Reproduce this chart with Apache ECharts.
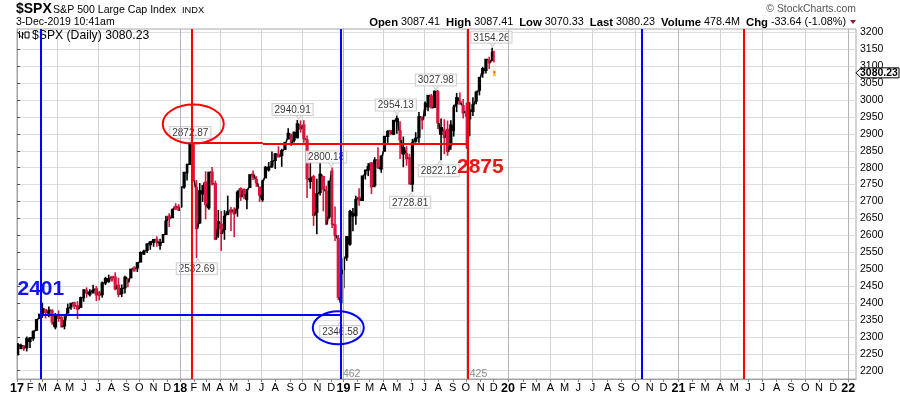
<!DOCTYPE html>
<html><head><meta charset="utf-8">
<script src="https://cdn.jsdelivr.net/npm/echarts@6/dist/echarts.min.js"></script>
<style>html,body{margin:0;padding:0;background:#fff}#c{width:900px;height:396px}</style>
</head><body><div id="c"></div>
<script>
// ---------- data ----------
const holidays = ['2017-01-16','2017-02-20','2017-04-14','2017-05-29','2017-07-04','2017-09-04','2017-11-23','2017-12-25',
  '2018-01-01','2018-01-15','2018-02-19','2018-03-30','2018-05-28','2018-07-04','2018-09-03','2018-11-22','2018-12-05','2018-12-25',
  '2019-01-01','2019-01-21','2019-02-18','2019-04-19','2019-05-27','2019-07-04','2019-09-02','2019-11-28'];
const firstBarDate = '2017-01-03';
const lastBarDate = '2019-12-03';
const axisEndDate = '2022-01-19';
const monthLetters = ['J','F','M','A','M','J','J','A','S','O','N','D'];
const yTicks = [2200,2250,2300,2350,2400,2450,2500,2550,2600,2650,2700,2750,2800,2850,2900,2950,3000,3050,3100,3150,3200];

// weekly bars: [week ending, open, high, low, close]
const weeks2017 = [
 ['2017-01-06',2251.6,2282.1,2245.1,2277.0],['2017-01-13',2273.6,2279.3,2263.6,2274.6],['2017-01-20',2272.8,2276.2,2258.8,2271.3],
 ['2017-01-27',2267.8,2301.0,2257.0,2294.7],['2017-02-03',2286.0,2298.3,2267.2,2297.4],['2017-02-10',2295.9,2319.2,2288.5,2316.1],
 ['2017-02-17',2319.2,2351.3,2319.2,2351.2],['2017-02-24',2354.9,2367.3,2352.9,2367.3],['2017-03-03',2366.1,2401.0,2356.2,2383.1],
 ['2017-03-10',2381.0,2382.9,2354.5,2372.6],['2017-03-17',2371.4,2390.0,2357.8,2378.3],['2017-03-24',2378.2,2381.5,2335.5,2344.0],
 ['2017-03-31',2329.1,2370.4,2322.3,2362.7],['2017-04-07',2363.0,2378.4,2344.5,2355.5],['2017-04-13',2357.2,2366.4,2329.0,2329.0],
 ['2017-04-21',2332.6,2361.4,2322.3,2348.7],['2017-04-28',2370.3,2398.2,2369.4,2384.2],['2017-05-05',2388.5,2399.3,2379.8,2399.3],
 ['2017-05-12',2401.4,2403.9,2381.7,2390.9],['2017-05-19',2393.0,2405.8,2352.7,2381.7],['2017-05-26',2387.2,2418.7,2386.5,2415.8],
 ['2017-06-02',2415.6,2440.2,2403.6,2439.1],['2017-06-09',2437.8,2446.2,2415.7,2431.8],['2017-06-16',2425.4,2441.0,2419.0,2433.2],
 ['2017-06-23',2437.0,2453.8,2431.3,2438.3],['2017-06-30',2442.5,2450.4,2405.7,2423.4],['2017-07-07',2431.4,2436.0,2407.7,2425.2],
 ['2017-07-14',2424.5,2463.5,2415.9,2459.3],['2017-07-21',2459.1,2477.6,2453.3,2472.5],['2017-07-28',2472.0,2484.0,2459.9,2472.1],
 ['2017-08-04',2477.1,2480.4,2462.9,2476.8],['2017-08-11',2477.1,2490.9,2437.8,2441.3],['2017-08-18',2453.0,2474.9,2417.3,2425.6],
 ['2017-08-25',2427.9,2454.8,2417.4,2443.1],['2017-09-01',2444.7,2480.4,2428.2,2476.6],['2017-09-08',2470.4,2472.9,2446.6,2461.4],
 ['2017-09-15',2474.5,2500.2,2474.5,2500.2],['2017-09-22',2503.0,2508.9,2496.7,2502.2],['2017-09-29',2503.3,2519.4,2491.9,2519.4],
 ['2017-10-06',2521.2,2552.5,2520.4,2549.3],['2017-10-13',2547.4,2557.7,2543.0,2553.2],['2017-10-20',2555.6,2575.4,2547.9,2575.2],
 ['2017-10-27',2578.1,2583.0,2557.4,2581.1],['2017-11-03',2583.2,2588.4,2566.2,2587.8],['2017-11-10',2587.5,2597.0,2566.3,2582.3],
 ['2017-11-17',2576.5,2590.1,2557.5,2578.9],['2017-11-24',2579.5,2604.2,2578.2,2602.4],['2017-12-01',2602.7,2657.7,2601.4,2642.2],
 ['2017-12-08',2657.2,2665.2,2624.8,2651.5],['2017-12-15',2652.2,2679.6,2652.2,2675.8],['2017-12-22',2685.9,2695.0,2676.1,2683.3],
 ['2017-12-29',2684.2,2692.1,2673.6,2673.6]
];
const weeks2018 = [
 ['2018-01-05',2683.7,2743.5,2682.4,2743.2],['2018-01-12',2742.7,2787.9,2737.6,2786.2],['2018-01-19',2784.0,2810.3,2762.3,2810.3],
 ['2018-01-26',2809.2,2872.9,2808.1,2872.9],['2018-02-02',2867.2,2870.6,2760.0,2762.1],['2018-02-09',2741.1,2763.4,2532.7,2619.6],
 ['2018-02-16',2636.8,2754.4,2634.1,2732.2],['2018-02-23',2722.0,2747.8,2699.1,2747.3],['2018-03-02',2757.4,2789.2,2647.3,2691.3],
 ['2018-03-09',2681.1,2786.6,2675.8,2786.6],['2018-03-16',2787.3,2801.9,2747.5,2752.0],['2018-03-23',2752.7,2761.9,2585.9,2588.3],
 ['2018-03-29',2619.4,2674.8,2593.1,2640.9],['2018-04-06',2633.5,2672.1,2553.8,2604.5],['2018-04-13',2617.2,2674.4,2586.9,2656.3],
 ['2018-04-20',2670.1,2717.5,2660.4,2670.1],['2018-04-27',2675.4,2683.6,2612.7,2669.9],['2018-05-04',2675.5,2682.9,2594.6,2663.4],
 ['2018-05-11',2680.3,2732.9,2655.2,2727.7],['2018-05-18',2738.4,2742.1,2701.9,2713.0],['2018-05-25',2735.4,2739.2,2707.0,2721.3],
 ['2018-06-01',2705.1,2736.9,2676.8,2734.6],['2018-06-08',2741.7,2779.9,2741.7,2779.0],['2018-06-15',2780.5,2791.5,2763.5,2779.7],
 ['2018-06-22',2765.8,2774.9,2742.9,2754.9],['2018-06-29',2742.9,2743.3,2698.7,2718.4],['2018-07-06',2705.0,2764.4,2699.0,2759.8],
 ['2018-07-13',2769.7,2804.5,2769.7,2801.3],['2018-07-20',2797.4,2816.8,2788.6,2801.8],['2018-07-27',2804.6,2848.0,2799.0,2818.8],
 ['2018-08-03',2821.2,2843.2,2796.3,2840.4],['2018-08-10',2840.3,2863.4,2830.9,2833.3],['2018-08-17',2835.5,2855.6,2802.5,2850.1],
 ['2018-08-24',2853.9,2876.2,2853.4,2874.7],['2018-08-31',2884.7,2916.5,2884.7,2901.5],['2018-09-07',2897.0,2900.2,2864.1,2871.7],
 ['2018-09-14',2881.4,2906.3,2874.7,2905.0],['2018-09-21',2888.3,2940.9,2886.9,2929.7],['2018-09-28',2923.8,2939.9,2903.3,2914.0],
 ['2018-10-05',2926.3,2939.9,2874.0,2885.6],['2018-10-12',2882.5,2894.8,2710.5,2767.1],['2018-10-19',2763.8,2816.9,2738.0,2767.8],
 ['2018-10-26',2773.9,2778.9,2628.2,2658.7],['2018-11-02',2667.9,2766.9,2603.5,2723.1],['2018-11-09',2726.4,2815.2,2717.6,2781.0],
 ['2018-11-16',2773.9,2776.0,2670.8,2736.3],['2018-11-23',2730.1,2746.8,2631.1,2632.6],['2018-11-30',2654.6,2760.9,2649.4,2760.2],
 ['2018-12-07',2790.5,2800.2,2621.5,2633.1],['2018-12-14',2630.9,2685.4,2583.2,2600.0],['2018-12-21',2590.8,2601.1,2408.6,2416.6],
 ['2018-12-28',2400.6,2520.3,2346.6,2485.7]
];
const weeks2019 = [
 ['2019-01-04',2498.9,2538.1,2444.0,2531.9],['2019-01-11',2535.6,2597.8,2524.6,2596.3],['2019-01-18',2574.1,2675.5,2569.3,2670.7],
 ['2019-01-25',2657.9,2681.0,2612.4,2664.8],['2019-02-01',2657.9,2716.7,2631.0,2706.5],['2019-02-08',2712.4,2739.0,2687.7,2707.9],
 ['2019-02-15',2702.9,2775.7,2702.9,2775.6],['2019-02-22',2780.7,2794.2,2765.0,2792.7],['2019-03-01',2792.4,2813.5,2775.1,2803.7],
 ['2019-03-08',2814.4,2816.9,2722.3,2743.1],['2019-03-15',2747.6,2830.7,2741.9,2822.5],['2019-03-22',2822.6,2860.3,2795.9,2800.7],
 ['2019-03-29',2796.0,2836.0,2785.0,2834.4],['2019-04-05',2848.6,2893.4,2848.6,2892.7],['2019-04-12',2892.2,2910.5,2873.3,2907.4],
 ['2019-04-18',2910.0,2911.2,2895.9,2905.0],['2019-04-26',2898.8,2939.4,2896.0,2939.9],['2019-05-03',2940.6,2954.1,2900.5,2945.6],
 ['2019-05-10',2908.9,2937.3,2825.4,2881.4],['2019-05-17',2840.2,2892.2,2801.4,2859.5],['2019-05-24',2841.9,2864.4,2805.5,2826.1],
 ['2019-05-31',2830.0,2840.5,2750.5,2752.1],['2019-06-07',2751.5,2884.9,2728.8,2873.3],['2019-06-14',2885.8,2905.0,2873.7,2887.0],
 ['2019-06-21',2889.8,2964.2,2873.4,2950.5],['2019-06-28',2949.6,2950.5,2913.0,2941.8],['2019-07-05',2971.4,2995.8,2952.2,2990.4],
 ['2019-07-12',2979.8,3013.9,2966.4,3013.8],['2019-07-19',3012.1,3017.8,2975.9,2976.6],['2019-07-26',2978.1,3028.0,2978.0,3025.9],
 ['2019-08-02',3024.5,3029.3,2914.1,2932.1],['2019-08-09',2898.1,2945.5,2822.1,2918.7],['2019-08-16',2907.1,2943.3,2839.6,2888.7],
 ['2019-08-23',2913.5,2939.1,2835.0,2847.1],['2019-08-30',2866.7,2940.4,2853.1,2926.5],['2019-09-06',2909.0,2985.9,2891.9,2978.7],
 ['2019-09-13',2988.4,3021.0,2964.2,3007.4],['2019-09-20',2996.4,3022.0,2990.9,2992.1],['2019-09-27',2983.5,3002.6,2945.5,2961.8],
 ['2019-10-04',2967.1,2992.5,2856.0,2952.0],['2019-10-11',2944.2,2993.3,2892.7,2970.3],['2019-10-18',2965.8,3008.3,2952.9,2986.2],
 ['2019-10-25',2996.5,3027.4,2987.3,3022.6],['2019-11-01',3028.7,3067.0,3013.6,3066.9],['2019-11-08',3079.0,3097.8,3065.9,3093.1],
 ['2019-11-15',3087.0,3120.5,3078.4,3120.5],['2019-11-22',3117.9,3127.6,3091.4,3110.3],['2019-11-29',3117.4,3154.3,3115.0,3141.0],
 ['2019-12-02',3143.9,3144.3,3110.8,3113.9]
];
// current (intraday) bar: [date, open, high, low, last]
const todayBar = ['2019-12-03',3087.41,3087.41,3070.33,3080.23];

// cycle lines
const blueAnchor = '2017-02-24', blueBars = 462, blueLevel = 2366;
const redAnchor = '2018-01-26', redBars = 425;
const redLevelSteps = [['2018-01-26',2875],['2018-07-05',2872]];
// annotated highs / lows: [date, value, side]
const pivots = [
 ['2018-01-26',2872.87,'top'],['2018-02-09',2532.69,'bottom'],['2018-09-21',2940.91,'top'],['2018-12-03',2800.18,'top'],
 ['2018-12-24',2346.58,'bottom'],['2019-05-01',2954.13,'top'],['2019-06-03',2728.81,'bottom'],['2019-07-26',3027.98,'top'],
 ['2019-08-05',2822.12,'bottom'],['2019-11-27',3154.26,'top']
];
const pivotShift = {'2940.91':-6,'2800.18':-5,'2346.58':0,'3027.98':0};

// ---------- calendar ----------
function ymd(d){return d.toISOString().slice(0,10);}
const cats = [];
(function(){
  let d = new Date(firstBarDate+'T00:00:00Z');
  const end = new Date(axisEndDate+'T00:00:00Z');
  const hol = new Set(holidays);
  while (d <= end) {
    const wd = d.getUTCDay(), s = ymd(d);
    if (wd !== 0 && wd !== 6 && !(s <= lastBarDate && hol.has(s))) cats.push(s);
    d = new Date(d.getTime()+86400000);
  }
})();
const N = cats.length - 1;
const dayIdx = {}; cats.forEach((s,i)=>dayIdx[s]=i);
const isMonthStart = i => i===0 || cats[i].slice(0,7) !== cats[i-1].slice(0,7);
const isQuarterStart = i => isMonthStart(i) && ((+cats[i].slice(5,7))-1)%3===0;
const yearStarts = cats.map((s,i)=>i).filter(i=>i>0 && isMonthStart(i) && cats[i].slice(5,7)==='01');

function weekCenter(endStr){
  const e = new Date(endStr+'T00:00:00Z'); const wd = e.getUTCDay();
  const ids = [];
  for (let k = wd-1; k >= 0; k--) { const s = ymd(new Date(e.getTime()-k*86400000)); if (s in dayIdx) ids.push(dayIdx[s]); }
  return {c: ids.reduce((a,b)=>a+b,0)/ids.length, n: ids.length};
}
const barData = weeks2017.concat(weeks2018, weeks2019).map(r => { const w = weekCenter(r[0]); return [w.c, r[1], r[2], r[3], r[4], w.n]; });

const b1 = dayIdx[blueAnchor], b2 = b1 + blueBars, b3 = b2 + blueBars;
const r1 = dayIdx[redAnchor], r2 = r1 + redBars, r3 = r2 + redBars;
const BLUE = '#0000ff', RED = '#ff0000', DOWN = '#d8173f';
const FONT = 'Liberation Sans, Arial, sans-serif';

const chart = echarts.init(document.getElementById('c'), null, {renderer:'canvas'});
const option = {
  animation: false,
  backgroundColor: '#fff',
  grid: {left:17, right:44, top:29, bottom:17, show:true, borderColor:'#a8a8a8', borderWidth:1},
  xAxis: [{
    type:'category', data: cats, boundaryGap:false,
    axisLine:{show:true, lineStyle:{color:'#a0a0a0'}},
    axisTick:{show:true, interval:(i)=>isMonthStart(i), length:3, lineStyle:{color:'#888'}},
    axisLabel:{interval:(i)=>isMonthStart(i), margin:3, color:'#000', fontSize:11, fontFamily:FONT, hideOverlap:false,
      formatter:(v)=>{ const m = +v.slice(5,7); return m===1 ? '{y|'+v.slice(2,4)+'}' : monthLetters[m-1]; },
      rich:{y:{fontWeight:'bold', fontSize:12.5, fontFamily:FONT, color:'#000'}}},
    splitLine:{show:true, interval:(i)=>isQuarterStart(i), lineStyle:{color:'#d4d4d4', width:1}}
  },{
    type:'value', min:0, max:N, show:false
  }],
  yAxis: {
    type:'value', position:'right', min:2175.5, max:3209.8, scale:true,
    axisLine:{show:true, lineStyle:{color:'#a0a0a0'}},
    axisTick:{show:true, length:3, customValues: yTicks, lineStyle:{color:'#555'}},
    axisLabel:{customValues: yTicks, margin:4, color:'#000', fontSize:10.5, fontFamily:FONT, formatter:(v)=>String(v)},
    splitLine:{show:true, lineStyle:{color:'#dedede', width:1}}
  },
  series: [
    { // year grid lines
      type:'line', xAxisIndex:1, data:[], z:1, silent:true,
      markLine:{silent:true, symbol:['none','none'], label:{show:false}, animation:false,
        lineStyle:{color:'#b5b5b5', width:1, type:'solid'}, data: yearStarts.map(i=>({xAxis:i}))}
    },
    { // weekly price bars
      type:'custom', xAxisIndex:1, z:3, clip:true, data: barData,
      encode:{x:0, y:[1,2,3,4]},
      renderItem:(params, api)=>{
        const x = api.value(0), o = api.value(1), h = api.value(2), l = api.value(3), c = api.value(4), n = api.value(5);
        const col = c >= o ? '#000' : DOWN;
        const pH = api.coord([x,h]), pL = api.coord([x,l]);
        const yo = api.coord([x,o])[1], yc = api.coord([x,c])[1];
        const unit = api.size([1,0])[0];
        const bw = Math.max(unit*n, 1.8);
        const top = Math.min(yo,yc), bh = Math.max(Math.abs(yo-yc), 3);
        const kids = [];
        const prev = barData[params.dataIndex-1];
        if (prev) {
          const pc = api.coord([prev[0], prev[4]]);
          const pw = unit*prev[5];
          kids.push({type:'line', shape:{x1:pc[0]+pw/2-0.5, y1:pc[1], x2:pH[0]-bw/2+0.5, y2:yo}, style:{stroke:'#000', lineWidth:1.6}});
        }
        kids.push({type:'line', shape:{x1:pH[0], y1:pH[1], x2:pL[0], y2:pL[1]}, style:{stroke:col, lineWidth:1.6}});
        kids.push({type:'rect', shape:{x:pH[0]-bw/2, y:top-0.5, width:bw, height:bh+1}, style:{fill:col}});
        return {type:'group', children:kids};
      }
    },
    { // intraday bar
      type:'custom', xAxisIndex:1, z:3, data:[[dayIdx[todayBar[0]], todayBar[1], todayBar[2], todayBar[3], todayBar[4]]],
      encode:{x:0, y:[1,2,3,4]},
      renderItem:(params, api)=>{
        const x = api.value(0);
        const pH = api.coord([x, api.value(2)]), pL = api.coord([x, api.value(3)]);
        return {type:'group', children:[
          {type:'rect', shape:{x:pH[0]-1.5, y:pH[1], width:3, height:pL[1]-pH[1]}, style:{fill:'#ffd000'}},
          {type:'line', shape:{x1:pH[0], y1:api.coord([x, api.value(1)])[1]+1, x2:pH[0], y2:api.coord([x, api.value(4)])[1]}, style:{stroke:'#e00030', lineWidth:1}}
        ]};
      }
    },
    { // pivot label pointers
      type:'scatter', xAxisIndex:1, z:4, silent:true, symbol:'triangle',
      data: pivots.map(p => ({
        value:[dayIdx[p[0]], p[1]], symbolSize:[7,5], symbolRotate: p[2]==='top' ? 180 : 0,
        symbolOffset:[0, p[2]==='top' ? -3.5 : 3.5]
      })),
      itemStyle:{color:'#fff', borderColor:'#c4c4c4', borderWidth:1}
    },
    { // pivot labels
      type:'scatter', xAxisIndex:1, z:4, symbolSize:0, silent:true,
      data: pivots.map(p => ({
        value:[dayIdx[p[0]], p[1]],
        label:{show:true, position:p[2], distance:5, offset:[(pivotShift[p[1].toFixed(2)] ?? -1), 0],
          formatter: p[1].toFixed(2), fontSize:10, fontFamily:FONT, color:'#000', lineHeight:10,
          backgroundColor:'#fff', borderColor:'#c4c4c4', borderWidth:1, padding:[1,2,0,2]}
      }))
    },
    { // cycle lines
      type:'line', xAxisIndex:1, data:[], z:6, silent:true,
      markLine:{silent:true, symbol:['none','none'], label:{show:false}, animation:false,
        data:[
          {xAxis:b1, lineStyle:{color:BLUE, width:2, type:'solid'}},
          {xAxis:b2, lineStyle:{color:BLUE, width:2, type:'solid'}},
          {xAxis:b3, lineStyle:{color:BLUE, width:2, type:'solid'}},
          {xAxis:r1, lineStyle:{color:RED, width:2, type:'solid'}},
          {xAxis:r2, lineStyle:{color:RED, width:2, type:'solid'}},
          {xAxis:r3, lineStyle:{color:RED, width:2, type:'solid'}},
          [{coord:[b1, blueLevel], lineStyle:{color:BLUE, width:2, type:'solid'}}, {coord:[b2, blueLevel]}],
          [{coord:[dayIdx[redLevelSteps[0][0]], redLevelSteps[0][1]], lineStyle:{color:RED, width:2, type:'solid'}}, {coord:[dayIdx[redLevelSteps[1][0]], redLevelSteps[0][1]]}],
          [{coord:[dayIdx[redLevelSteps[1][0]], redLevelSteps[1][1]], lineStyle:{color:RED, width:2, type:'solid'}}, {coord:[r2, redLevelSteps[1][1]]}]
        ]}
    }
  ]
};
chart.setOption(option);

// ---------- annotations ----------
const px = (i, v) => chart.convertToPixel({xAxisIndex:1, yAxisIndex:0}, [i, v]);
const redC = px(r1+3, 2929), blueC = px(b2-4, 2327);
const lastY = px(0, todayBar[4])[1];
const gridRight = 856, gridBottom = 379;
const g = [
  {type:'text', style:{x:16, y:9.5, text:'$SPX', font:'bold 14px '+FONT, fill:'#000', textVerticalAlign:'middle'}},
  {type:'text', style:{x:53, y:10.5, text:'S&P 500 Large Cap Index', font:'10.6px '+FONT, fill:'#000', textVerticalAlign:'middle'}},
  {type:'text', style:{x:182, y:10.5, text:'INDX', font:'9.3px '+FONT, fill:'#000', textVerticalAlign:'middle'}},
  {type:'text', style:{x:16, y:22.5, text:'3-Dec-2019 10:41am', font:'10.5px '+FONT, fill:'#000', textVerticalAlign:'middle'}},
  {type:'text', style:{x:gridRight, y:9.5, text:'\u00a9 StockCharts.com', font:'10.4px '+FONT, fill:'#555', textAlign:'right', textVerticalAlign:'middle'}},
  {type:'text', style:{x:846, y:22.5, textAlign:'right', textVerticalAlign:'middle', font:'10.8px '+FONT, fill:'#000',
    text:'{b|Open} 3087.41  {b|High} 3087.41  {b|Low} 3070.33  {b|Last} 3080.23  {b|Volume} 478.4M  {b|Chg} -33.64 (-1.08%)',
    rich:{b:{fontWeight:'bold', fontSize:11.3, fontFamily:FONT, fill:'#000'}}}},
  {type:'polygon', shape:{points:[[850,20],[856,20],[853,24]]}, style:{fill:'#8a1c30'}},
  // legend
  {type:'group', children:[
    {type:'line', shape:{x1:19.5,y1:31,x2:19.5,y2:38}, style:{stroke:'#000', lineWidth:1}},
    {type:'line', shape:{x1:18,y1:33,x2:19.5,y2:33}, style:{stroke:'#000', lineWidth:1}},
    {type:'line', shape:{x1:19.5,y1:36,x2:21,y2:36}, style:{stroke:'#000', lineWidth:1}},
    {type:'line', shape:{x1:22.5,y1:32,x2:22.5,y2:39}, style:{stroke:'#000', lineWidth:1}},
    {type:'line', shape:{x1:21,y1:37,x2:22.5,y2:37}, style:{stroke:'#000', lineWidth:1}},
    {type:'line', shape:{x1:22.5,y1:34,x2:24,y2:34}, style:{stroke:'#000', lineWidth:1}},
    {type:'rect', shape:{x:25,y:32,width:4,height:6}, style:{fill:'none', stroke:'#000', lineWidth:1}}
  ]},
  {type:'text', z:1, style:{x:32, y:35.5, text:'$SPX (Daily) 3080.23', font:'12.2px '+FONT, fill:'#000', textVerticalAlign:'middle'}},
  // big level texts
  {type:'text', z:10, style:{x:17.5, y:289.5, text:'2401', font:'bold 21px '+FONT, fill:'#1414f0', textVerticalAlign:'middle'}},
  {type:'text', z:10, style:{x:457, y:167.5, text:'2875', font:'bold 21px '+FONT, fill:'#ee1515', textVerticalAlign:'middle'}},
  // ellipses
  {type:'ellipse', z:10, shape:{cx:redC[0], cy:redC[1], rx:30.5, ry:19.5}, style:{fill:'none', stroke:RED, lineWidth:2}},
  {type:'ellipse', z:10, shape:{cx:blueC[0], cy:blueC[1], rx:25.5, ry:16.5}, style:{fill:'none', stroke:BLUE, lineWidth:2}},
  // bar counts
  {type:'text', z:10, style:{x:px(b2,2200)[0]+2, y:gridBottom-5, text:String(blueBars), font:'10.5px '+FONT, fill:'#8a8a8a', textVerticalAlign:'middle'}},
  {type:'text', z:10, style:{x:px(r2,2200)[0]+2, y:gridBottom-5, text:String(redBars), font:'10.5px '+FONT, fill:'#8a8a8a', textVerticalAlign:'middle'}},
  // last price tag
  {type:'polygon', z:10, shape:{points:[[gridRight,lastY],[gridRight+5,lastY-5],[899,lastY-5],[899,lastY+5],[gridRight+5,lastY+5]]}, style:{fill:'#fff', stroke:'#000', lineWidth:1}},
  {type:'text', z:11, style:{x:860, y:lastY, text:todayBar[4].toFixed(2), font:'bold 10.5px '+FONT, fill:'#000', textVerticalAlign:'middle'}}
];
chart.setOption({graphic: g});
</script></body></html>
